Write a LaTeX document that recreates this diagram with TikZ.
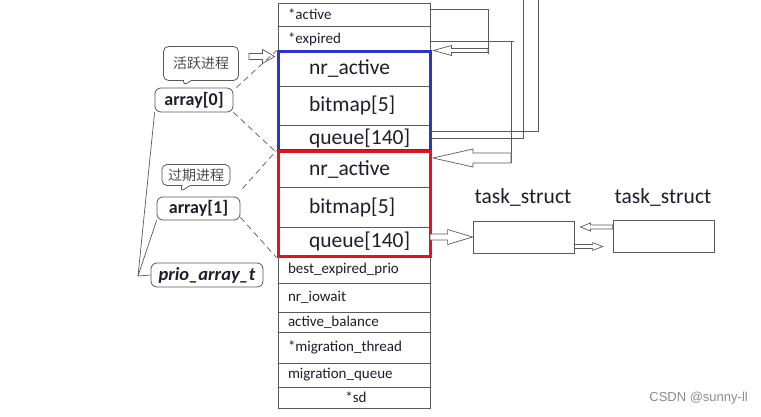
\documentclass[tikz,border=0pt]{standalone}
\usepackage{fontspec}
\setmainfont{Carlito}
\newfontfamily\cjk{Noto Sans CJK SC}
\newfontfamily\wmfont{Liberation Sans}
\usetikzlibrary{calc,fit,shapes.callouts}
\definecolor{tline}{HTML}{5A5A5A}
\definecolor{bluebox}{HTML}{2B36C6}
\definecolor{redbox}{HTML}{E0141E}
\definecolor{txt}{HTML}{1E1E2A}
\newcommand\hollowarrow[5]{%
  \draw[harrow] let \p1=(#1), \p2=(#2) in
    (\x1,\y2+#3) -- (\x2-#5,\y2+#3) -- (\x2-#5,\y2+#4) -- (\x2,\y2) --
    (\x2-#5,\y2-#4) -- (\x2-#5,\y2-#3) -- (\x1,\y2-#3) -- cycle;}
\tikzset{
  row/.style={draw=tline, line width=0.8pt, anchor=north west, outer sep=0pt,
    minimum width=152pt, text width=140pt, inner xsep=6pt, inner ysep=0pt,
    align=left, text=txt, font=\fontsize{15}{16}\selectfont,
    execute at begin node={\hspace*{4pt}}},
  bigrow/.style={row, font=\fontsize{21.5}{22}\selectfont,
    execute at begin node={\hspace*{21pt}}},
  sdrow/.style={row, align=center, execute at begin node={}},
  conn/.style={draw=tline, line width=0.7pt},
  harrow/.style={draw=tline, line width=0.7pt, fill=white},
  dashconn/.style={draw=tline, line width=0.7pt, dash pattern=on 6pt off 4pt},
  tagbox/.style={draw=tline, line width=0.8pt, rounded corners=6pt, inner sep=0pt, text=txt},
  callbox/.style={rectangle callout, draw=tline, line width=0.8pt, rounded corners=5pt,
    inner sep=0pt, callout pointer width=8pt, text=black!70, font=\cjk\fontsize{14}{14}\selectfont},
  taskbox/.style={draw=tline, line width=0.8pt, minimum width=101pt, minimum height=32pt, inner sep=0pt},
  tasklabel/.style={text=txt, font=\fontsize{21.5}{22}\selectfont, inner sep=0pt},
}
\begin{document}
\begin{tikzpicture}[x=1pt,y=-1pt]
\useasboundingbox[fill=white] (0,0) rectangle (761,417);
% table rows
\node[row, minimum height=23pt] (r1) at (278,3) {*active};
\node[row, minimum height=26pt] (r2) at (278,26) {*expired};
\node[bigrow, minimum height=34pt] (b1) at (278,52) {nr\_active};
\node[bigrow, minimum height=39pt] (b2) at (278,86) {bitmap[5]};
\node[bigrow, minimum height=26pt] (b3) at (278,125) {queue[140]};
\node[bigrow, minimum height=35pt] (d1) at (278,152) {nr\_active};
\node[bigrow, minimum height=40pt] (d2) at (278,187) {bitmap[5]};
\node[bigrow, minimum height=29pt] (d3) at (278,227) {queue[140]};
\node[row, minimum height=27pt] (e1) at (278,256) {best\_expired\_prio};
\node[row, minimum height=29pt] (e2) at (278,283) {nr\_iowait};
\node[row, minimum height=20pt] (e3) at (278,312) {active\_balance};
\node[row, minimum height=31pt] (e4) at (278,332) {*migration\_thread};
\node[row, minimum height=24pt] (e5) at (278,363) {migration\_queue};
\node[sdrow, minimum height=21pt] (e6) at (278,387) {*sd};
% coloured boxes
\node[fit=(b1)(b3), draw=bluebox, line width=3pt, inner sep=0pt] (blue) {};
\node[fit=(d1)(d3), draw=redbox, line width=3pt, inner sep=0pt] (red) {};
% right-hand connectors
\coordinate (a1) at (488,9);
\coordinate (a2) at (488,54);
\draw[conn] (r1.east |- a1) -- (a1) -- (a2);
\hollowarrow{a2}{$(blue.north east)+(2,0)$}{2pt}{5pt}{-18pt}
\coordinate (bb1) at (514,41);
\coordinate (bb2) at (511,41);
\coordinate (bb3) at (511,163);
\draw[conn] (r2.east |- bb1) -- (bb1);
\draw[conn] (bb2) -- (bb3);
\coordinate (bt) at (433,158);
\hollowarrow{$(bb3)+(0,-5)$}{bt}{5pt}{9pt}{-40pt}
\coordinate (c1) at (538,131);
\coordinate (c2) at (538,0);
\coordinate (g1) at (523,138);
\coordinate (g2) at (523,0);
\draw[conn] (b3.east |- c1) -- (c1) -- (c2);
\draw[conn] (b3.east |- g1) -- (g1) -- (g2);
% task structs
\node[taskbox] (t1) at (523.5,237) {};
\node[taskbox] (t2) at (663.5,236.5) {};
\node[tasklabel] (l1) at (523,197) {task\_struct};
\node[tasklabel] (l2) at (663,197) {task\_struct};
\hollowarrow{d3.east}{t1.west}{3pt}{7.5pt}{25pt}
\hollowarrow{$(t2.west)+(0,-10)$}{$(t1.east)+(6,-10)$}{2pt}{4pt}{-10pt}
\hollowarrow{$(t1.east)+(0,10)$}{$(t2.west)+(-10,10)$}{2pt}{4pt}{10pt}
% left-hand tags
\node[tagbox, minimum width=78pt, minimum height=24pt, font=\bfseries\fontsize{18}{18}\selectfont] (n0) at (194,100) {array[0]};
\node[tagbox, minimum width=83pt, minimum height=23pt, font=\bfseries\fontsize{18}{18}\selectfont] (n1) at (198.5,208.5) {array[1]};
\node[tagbox, minimum width=112pt, minimum height=24pt, font=\bfseries\itshape\fontsize{18.5}{18.5}\selectfont] (p) at (207,275) {prio\_array\_t};
\node[callbox, minimum width=75pt, minimum height=34pt, callout absolute pointer={(183,86)}] (c0) at (201,63.5) {活跃进程};
\node[callbox, minimum width=68pt, minimum height=21pt, callout absolute pointer={(180,192)}] (cc1) at (196,175) {过期进程};
\hollowarrow{$(c0.east)+(10,-5)$}{$(blue.north west)+(-2,6)$}{3pt}{7pt}{12pt}
% dashed guides
\draw[dashconn] ($(n0.north east)+(3,0)$) -- (blue.north west);
\draw[dashconn] (n0.south east) -- (blue.south west);
\draw[dashconn] ($(n1.north east)+(2,-8)$) -- (red.north west);
\draw[dashconn] ($(n1.south east)+(0,-3)$) -- (red.south west);
% tree lines
\coordinate (j) at (138,276);
\draw[conn] (n0.south west) -- (j);
\draw[conn] (n1.south west) -- (j);
\draw[conn] (j) -- (p.west);
% watermark
\node[anchor=east, text=black!45, font=\wmfont\fontsize{13}{13}\selectfont, inner sep=0pt] (wm) at (748,398) {CSDN @sunny-ll};
\end{tikzpicture}
\end{document}
